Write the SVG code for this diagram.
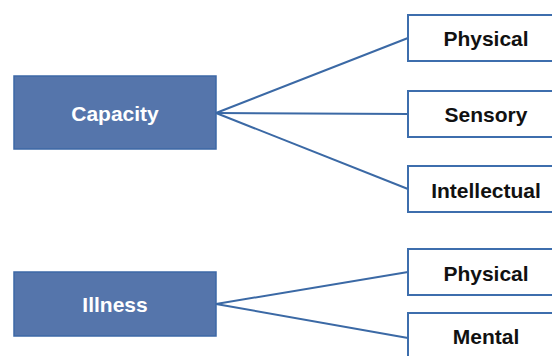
<svg xmlns="http://www.w3.org/2000/svg" width="552" height="356" viewBox="0 0 552 356">
<style>
.main rect{fill:#5575ab;stroke:#3d68a6;stroke-width:1.5}
.main text{fill:#ffffff;font-family:"Liberation Sans",Arial,sans-serif;font-weight:bold;font-size:21px;text-anchor:middle}
.leaf rect{fill:#ffffff;stroke:#3d6ead;stroke-width:2}
.leaf text{fill:#111111;font-family:"Liberation Sans",Arial,sans-serif;font-weight:bold;font-size:21px;text-anchor:middle}
#connectors line{stroke:#3b69a5;stroke-width:2}
</style>
<rect width="552" height="356" fill="#ffffff"/>
<g id="connectors">
<line x1="216" y1="113" x2="408" y2="38"/>
<line x1="216" y1="113" x2="408" y2="114"/>
<line x1="216" y1="113" x2="408" y2="189"/>
<line x1="216" y1="304" x2="408" y2="272"/>
<line x1="216" y1="304" x2="408" y2="338"/>
</g>
<g id="capacity" class="main"><rect x="14" y="76" width="202" height="73"/><text x="115" y="121">Capacity</text></g>
<g id="illness" class="main"><rect x="14" y="272" width="202" height="64"/><text x="115" y="312">Illness</text></g>
<g id="cap-physical" class="leaf"><rect x="408" y="15" width="156" height="46"/><text x="486" y="46">Physical</text></g>
<g id="cap-sensory" class="leaf"><rect x="408" y="91" width="156" height="46"/><text x="486" y="122">Sensory</text></g>
<g id="cap-intellectual" class="leaf"><rect x="408" y="166" width="156" height="46"/><text x="486" y="198">Intellectual</text></g>
<g id="ill-physical" class="leaf"><rect x="408" y="249" width="156" height="46"/><text x="486" y="281">Physical</text></g>
<g id="ill-mental" class="leaf"><rect x="408" y="313" width="156" height="50"/><text x="486" y="344">Mental</text></g>
</svg>
